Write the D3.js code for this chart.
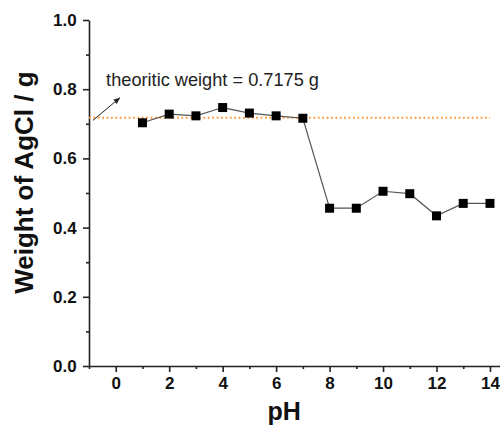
<!DOCTYPE html>
<html>
<head>
<meta charset="utf-8">
<script src="https://cdn.jsdelivr.net/npm/d3@7"></script>
<style>
  body { margin: 0; background: #fff; }
  text { font-family: Arial, "Liberation Sans", sans-serif; }
</style>
</head>
<body>
<div id="chart"></div>
<script>
// values
const pH = [1, 2, 3, 4, 5, 6, 7, 8, 9, 10, 11, 12, 13, 14];
const weight = [0.703, 0.728, 0.723, 0.747, 0.731, 0.723, 0.716, 0.456, 0.456, 0.505, 0.498, 0.434, 0.470, 0.470];
const theoretic = 0.7175;
const xTicks = [0, 2, 4, 6, 8, 10, 12, 14];
const yTicks = [0.0, 0.2, 0.4, 0.6, 0.8, 1.0];

const W = 500, H = 425;
const margin = { top: 20, right: -2, bottom: 59, left: 89 };
const width = W - margin.left - margin.right;
const height = H - margin.top - margin.bottom;

const svg = d3.select("#chart").append("svg")
    .attr("width", W).attr("height", H)
  .append("g")
    .attr("transform", "translate(" + margin.left + "," + margin.top + ")");

const x = d3.scaleLinear().domain([-1, 14.45]).range([0, width]);
const y = d3.scaleLinear().domain([0, 1]).range([height, 0]);

// minor ticks first
svg.append("g")
    .attr("transform", "translate(0," + height + ")")
    .call(d3.axisBottom(x).tickValues(d3.range(-1, 15, 2)).tickSize(3).tickFormat(""))
    .call(g => g.select(".domain").remove());
svg.append("g")
    .call(d3.axisLeft(y).tickValues(d3.range(0.1, 1, 0.2)).tickSize(3).tickFormat(""))
    .call(g => g.select(".domain").remove());

// major axes
const xAxis = svg.append("g")
    .attr("transform", "translate(0," + height + ")")
    .call(d3.axisBottom(x).tickValues(xTicks).tickSize(6).tickSizeOuter(0).tickFormat(d3.format("d")));
const yAxis = svg.append("g")
    .call(d3.axisLeft(y).tickValues(yTicks).tickSize(6).tickSizeOuter(0).tickFormat(d3.format(".1f")));

svg.selectAll(".tick line, .domain").attr("stroke", "#222").attr("stroke-width", 1.6);
xAxis.selectAll("text").attr("font-size", 17).attr("font-weight", "bold").attr("fill", "#111").attr("dy", "0.8em");
yAxis.selectAll("text").attr("font-size", 17).attr("font-weight", "bold").attr("fill", "#111").attr("dx", "-0.2em");

// axis titles
svg.append("text")
    .attr("x", x(6.3)).attr("y", height + 54)
    .attr("text-anchor", "middle")
    .attr("font-size", 25).attr("font-weight", "bold").attr("fill", "#111")
    .text("pH");
svg.append("text")
    .attr("transform", "rotate(-90)")
    .attr("x", -(y(0.53)))
    .attr("y", -56)
    .attr("text-anchor", "middle")
    .attr("font-size", 26).attr("font-weight", "bold").attr("fill", "#111")
    .text("Weight of AgCl / g");

// theoretical line
svg.append("line")
    .attr("x1", x(-1)).attr("x2", x(14))
    .attr("y1", y(theoretic)).attr("y2", y(theoretic))
    .attr("stroke", "#ff9a3c").attr("stroke-width", 1.8)
    .attr("stroke-dasharray", "1.8,2.6");

// annotation
svg.append("defs").append("marker")
    .attr("id", "arr").attr("viewBox", "0 0 10 10")
    .attr("refX", 9).attr("refY", 5)
    .attr("markerWidth", 7).attr("markerHeight", 7)
    .attr("orient", "auto")
  .append("path").attr("d", "M0,1 L10,5 L0,9 Z").attr("fill", "#222");
svg.append("line")
    .attr("x1", x(-0.85)).attr("y1", y(0.71))
    .attr("x2", x(0.15)).attr("y2", y(0.775))
    .attr("stroke", "#222").attr("stroke-width", 1)
    .attr("marker-end", "url(#arr)");
svg.append("text")
    .attr("x", x(-0.36)).attr("y", y(0.81))
    .attr("font-size", 18.2).attr("fill", "#222")
    .text("theoritic weight = 0.7175 g");

// data line and markers
const pts = pH.map((d, i) => [d, weight[i]]);
svg.append("path")
    .datum(pts)
    .attr("fill", "none")
    .attr("stroke", "#555").attr("stroke-width", 1.2)
    .attr("d", d3.line().x(d => x(d[0])).y(d => y(d[1])));
svg.selectAll("rect.pt")
    .data(pts)
    .enter().append("rect")
    .attr("class", "pt")
    .attr("x", d => x(d[0]) - 4.5)
    .attr("y", d => y(d[1]) - 4.5)
    .attr("width", 9).attr("height", 9)
    .attr("fill", "#000");
</script>
</body>
</html>
